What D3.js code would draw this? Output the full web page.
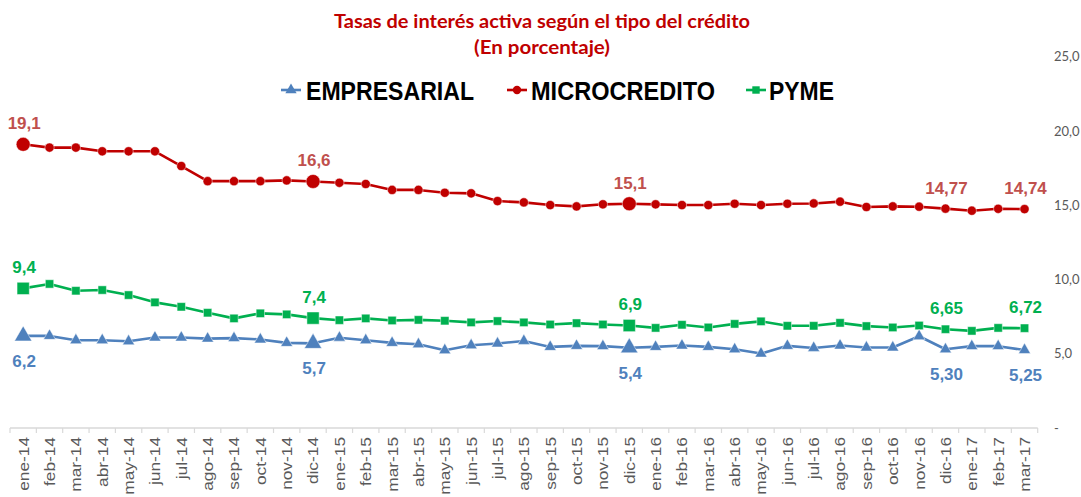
<!DOCTYPE html>
<html>
<head>
<meta charset="utf-8">
<script src="https://cdn.jsdelivr.net/npm/d3@7"></script>
<style>
  html, body { margin: 0; padding: 0; background: #fff; }
  svg { display: block; }
</style>
</head>
<body>
<script>
const months = ["ene-14","feb-14","mar-14","abr-14","may-14","jun-14","jul-14","ago-14","sep-14","oct-14","nov-14","dic-14",
  "ene-15","feb-15","mar-15","abr-15","may-15","jun-15","jul-15","ago-15","sep-15","oct-15","nov-15","dic-15",
  "ene-16","feb-16","mar-16","abr-16","may-16","jun-16","jul-16","ago-16","sep-16","oct-16","nov-16","dic-16",
  "ene-17","feb-17","mar-17"];

const microcredito = [19.1, 18.88, 18.88, 18.63, 18.63, 18.63, 17.64, 16.62, 16.62, 16.62, 16.67, 16.6, 16.51,
  16.43, 16.03, 16.03, 15.84, 15.8, 15.28, 15.19, 15.01, 14.92, 15.06, 15.1, 15.06, 15.01,
  15.01, 15.1, 15.01, 15.1, 15.12, 15.24, 14.88, 14.92, 14.9, 14.77, 14.63, 14.76, 14.74];

const pyme = [9.4, 9.7, 9.24, 9.29, 8.95, 8.46, 8.16, 7.76, 7.38, 7.72, 7.65, 7.4, 7.26,
  7.38, 7.24, 7.28, 7.22, 7.11, 7.2, 7.11, 6.97, 7.06, 6.97, 6.9, 6.74, 6.95,
  6.77, 7.01, 7.18, 6.88, 6.88, 7.08, 6.86, 6.77, 6.9, 6.65, 6.54, 6.74, 6.72];

const empresarial = [6.2, 6.2, 5.91, 5.91, 5.84, 6.09, 6.09, 6.02, 6.05, 5.96, 5.73, 5.7, 6.08,
  5.91, 5.73, 5.64, 5.24, 5.57, 5.69, 5.86, 5.46, 5.53, 5.51, 5.4, 5.46, 5.55,
  5.46, 5.3, 5.01, 5.53, 5.39, 5.55, 5.42, 5.42, 6.18, 5.3, 5.51, 5.51, 5.25];

const labelIndex = [0, 11, 23, 35, 38];
const microLabels = ["19,1", "16,6", "15,1", "14,77", "14,74"];
const pymeLabels = ["9,4", "7,4", "6,9", "6,65", "6,72"];
const empLabels = ["6,2", "5,7", "5,4", "5,30", "5,25"];
const bigMarkerIndex = [0, 11, 23];

const yTicks = [0, 5, 10, 15, 20, 25];
const yTickLabels = ["-", "5,0", "10,0", "15,0", "20,0", "25,0"];

const seriesNames = ["EMPRESARIAL", "MICROCREDITO", "PYME"];
const titleLines = ["Tasas de interés activa según el tipo del crédito", "(En porcentaje)"];

const W = 1081, H = 497;
const svg = d3.select("body").append("svg").attr("width", W).attr("height", H);

const x = d3.scaleBand().domain(months).range([10, 1037.7]).padding(0);
const xc = m => x(m) + x.bandwidth() / 2;
const y = d3.scaleLinear().domain([0, 25]).range([428, 56.7]);

// Title
svg.append("text").attr("x", 542).attr("y", 28).attr("text-anchor", "middle")
  .attr("font-family", "Lato, 'Liberation Sans', sans-serif").attr("font-weight", "bold")
  .attr("font-size", 18).attr("fill", "#C00000")
  .attr("textLength", 416).attr("lengthAdjust", "spacingAndGlyphs")
  .text(titleLines[0]);
svg.append("text").attr("x", 542).attr("y", 54).attr("text-anchor", "middle")
  .attr("font-family", "Lato, 'Liberation Sans', sans-serif").attr("font-weight", "bold")
  .attr("font-size", 18).attr("fill", "#C00000")
  .attr("textLength", 136).attr("lengthAdjust", "spacingAndGlyphs")
  .text(titleLines[1]);

// X axis
svg.append("line").attr("x1", x.range()[0]).attr("x2", x.range()[1])
  .attr("y1", y(0)).attr("y2", y(0)).attr("stroke", "#D9D9D9").attr("stroke-width", 1.5);
const boundaries = months.map(m => x(m)).concat([x.range()[1]]);
svg.append("g").selectAll("line").data(boundaries).join("line")
  .attr("x1", d => d).attr("x2", d => d).attr("y1", y(0)).attr("y2", y(0) + 5)
  .attr("stroke", "#D9D9D9").attr("stroke-width", 1.2);
svg.append("g").selectAll("text").data(months).join("text")
  .attr("transform", m => `translate(${xc(m)},437) scale(0.87,1) rotate(-90)`)
  .attr("text-anchor", "end").attr("dy", "0.36em")
  .attr("font-family", "'Liberation Sans', Arial, sans-serif").attr("font-size", 17.3)
  .attr("fill", "#595959").text(m => m);

// Right Y axis labels
svg.append("g").selectAll("text").data(yTicks).join("text")
  .attr("x", 1054).attr("y", d => y(d)).attr("dy", "0.35em")
  .attr("font-family", "Lato, 'Liberation Sans', sans-serif").attr("font-size", 13)
  .attr("fill", "#595959").text((d, i) => yTickLabels[i]);

const line = d3.line().x((d, i) => xc(months[i])).y(d => y(d));

const triangle = (s) => d3.symbol().type(d3.symbolTriangle).size(s);
const square = (s) => d3.symbol().type(d3.symbolSquare).size(s);

function drawSeries(data, color, kind) {
  const g = svg.append("g");
  g.append("path").datum(data).attr("d", line).attr("fill", "none")
    .attr("stroke", color).attr("stroke-width", 2.6).attr("stroke-linejoin", "round");
  g.selectAll(".mk").data(data).join(kind === "circle" ? "circle" : "path")
    .each(function (d, i) {
      const big = bigMarkerIndex.includes(i);
      const el = d3.select(this);
      const cx = xc(months[i]), cy = y(d);
      if (kind === "circle") {
        el.attr("cx", cx).attr("cy", cy).attr("r", big ? 7 : 4.6);
      } else if (kind === "square") {
        el.attr("d", square(big ? 150 : 70)()).attr("transform", `translate(${cx},${cy})`);
      } else {
        el.attr("d", triangle(big ? 130 : 62)()).attr("transform", `translate(${cx},${cy})`);
      }
    })
    .attr("fill", color).attr("stroke", "#ffffff").attr("stroke-opacity", 0.6).attr("stroke-width", 0.8);
}

drawSeries(microcredito, "#C00000", "circle");
drawSeries(pyme, "#00B050", "square");
drawSeries(empresarial, "#4F81BD", "triangle");

function drawLabels(data, texts, color, offset) {
  svg.append("g").selectAll("text").data(labelIndex).join("text")
    .attr("x", i => xc(months[i]) + 1).attr("y", i => y(data[i]) + offset)
    .attr("text-anchor", "middle").attr("dy", "0.35em")
    .attr("font-family", "'Liberation Sans', Arial, sans-serif").attr("font-weight", "bold")
    .attr("font-size", 17).attr("fill", color)
    .text((i, k) => texts[k]);
}
drawLabels(microcredito, microLabels, "#C0504D", -21);
drawLabels(pyme, pymeLabels, "#00B050", -21);
drawLabels(empresarial, empLabels, "#4F81BD", 25);

// Legend
const legendItems = [
  { name: seriesNames[0], color: "#4F81BD", kind: "triangle", lx: 281, tx: 306, tl: 168 },
  { name: seriesNames[1], color: "#C00000", kind: "circle", lx: 507, tx: 531, tl: 184 },
  { name: seriesNames[2], color: "#00B050", kind: "square", lx: 746, tx: 769, tl: 65 }
];
const lg = svg.append("g");
legendItems.forEach(it => {
  lg.append("line").attr("x1", it.lx).attr("x2", it.lx + 20).attr("y1", 90).attr("y2", 90)
    .attr("stroke", it.color).attr("stroke-width", 2.6);
  if (it.kind === "circle") {
    lg.append("circle").attr("cx", it.lx + 10).attr("cy", 90).attr("r", 4.2).attr("fill", it.color);
  } else if (it.kind === "square") {
    lg.append("path").attr("d", square(55)()).attr("transform", `translate(${it.lx + 10},90)`).attr("fill", it.color);
  } else {
    lg.append("path").attr("d", triangle(55)()).attr("transform", `translate(${it.lx + 10},90)`).attr("fill", it.color);
  }
  lg.append("text").attr("x", it.tx).attr("y", 99.5)
    .attr("font-family", "'Liberation Sans', Arial, sans-serif").attr("font-weight", "bold")
    .attr("font-size", 26).attr("fill", "#000")
    .attr("textLength", it.tl).attr("lengthAdjust", "spacingAndGlyphs")
    .text(it.name);
});
</script>
</body>
</html>
